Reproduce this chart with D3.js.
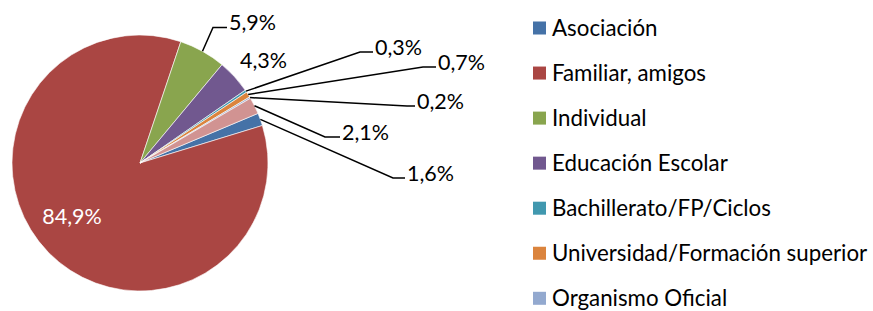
<!DOCTYPE html>
<html>
<head>
<meta charset="utf-8">
<script src="https://cdn.jsdelivr.net/npm/d3@7"></script>
<style>
  html, body { margin: 0; padding: 0; background: #fff; }
  svg { display: block; }
  text { font-family: Lato, "Open Sans", sans-serif; }
</style>
</head>
<body>
<svg id="chart" width="873" height="311"></svg>
<script>
// ---- data ----
const categories = ["Asociación", "Familiar, amigos", "Individual", "Educación Escolar",
  "Bachillerato/FP/Ciclos", "Universidad/Formación superior", "Organismo Oficial", "Otros"];
const values = [1.6, 84.9, 5.9, 4.3, 0.3, 0.7, 0.2, 2.1];
const colors = ["#4572A7", "#AA4643", "#89A54E", "#71588F", "#4198AF", "#DB843D", "#93A9CF", "#D19392"];
const legendCount = 7; // legend shows the first seven categories

// ---- layout ----
const W = 873, H = 311;
const cx = 140, cy = 163, R = 128;
const startDeg = 67.2;
const labelFont = 21.5;
const legendFont = 22.3;
// label layout: [textLeftX, textCenterY, elbowX] (elbowX null = no leader, inside = white centered)
const labelLayout = [
  {x: 407, y: 173, ex: 393},
  {x: 72, y: 216, inside: true},
  {x: 229, y: 22.5, ex: 213},
  {x: 240, y: 60, ex: null},
  {x: 375, y: 47, ex: 360},
  {x: 438, y: 62, ex: 423},
  {x: 417, y: 101, ex: 407},
  {x: 342, y: 132, ex: 325}
];

const svg = d3.select("#chart");
const loc = d3.formatLocale({decimal: ",", thousands: ".", grouping: [3], currency: ["", "€"]});
const fmt = v => loc.format(".1f")(v) + "%";

const rad = d => d * Math.PI / 180;
const pie = d3.pie().sort(null).value(d => d)
  .startAngle(rad(startDeg)).endAngle(rad(startDeg) + 2 * Math.PI);
const arcs = pie(values);
const arc = d3.arc().innerRadius(0).outerRadius(R);

const g = svg.append("g").attr("transform", `translate(${cx},${cy})`);
g.selectAll("path").data(arcs).join("path")
  .attr("d", arc)
  .attr("fill", (d, i) => colors[i])
  .attr("stroke", "#fff")
  .attr("stroke-width", 0.6);

// leader lines & labels
arcs.forEach((a, i) => {
  const L = labelLayout[i];
  const mid = (a.startAngle + a.endAngle) / 2;
  const px = cx + R * Math.sin(mid), py = cy - R * Math.cos(mid);
  if (L.inside) {
    svg.append("text").attr("x", L.x).attr("y", L.y + 7.5)
      .attr("text-anchor", "middle").attr("fill", "#fff")
      .attr("font-size", labelFont).text(fmt(values[i]));
    return;
  }
  if (L.ex !== null) {
    const ly = L.y + 5;
    svg.append("polyline")
      .attr("points", [[px, py], [L.ex, ly], [L.x - 2, ly]].map(p => p.join(",")).join(" "))
      .attr("fill", "none").attr("stroke", "#000").attr("stroke-width", 1.5);
  }
  svg.append("text").attr("x", L.x).attr("y", L.y + 7.5)
    .attr("fill", "#000").attr("font-size", labelFont).text(fmt(values[i]));
});

// legend
const lg = svg.append("g");
const rowY = i => 28 + i * 45.05;
categories.slice(0, legendCount).forEach((c, i) => {
  lg.append("rect").attr("x", 533).attr("y", rowY(i) - 6.5)
    .attr("width", 13).attr("height", 13).attr("fill", colors[i]);
  lg.append("text").attr("x", 552).attr("y", rowY(i) + 7.8)
    .attr("font-size", legendFont).attr("fill", "#000").text(c);
});
</script>
</body>
</html>
